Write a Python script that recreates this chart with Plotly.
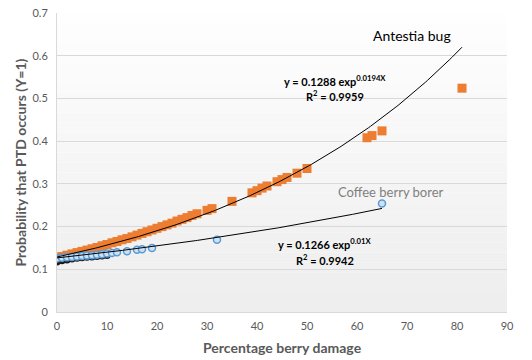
import numpy as np
import plotly.graph_objects as go

# Antestia bug (orange squares)
ant_x = list(range(0, 29)) + [30, 31, 35, 39, 40, 41, 42, 44, 45, 46, 48, 50, 62, 63, 65, 81]
ant_y = [0.127, 0.130, 0.133, 0.136, 0.139, 0.142, 0.145, 0.148, 0.151, 0.155,
         0.158, 0.162, 0.165, 0.169, 0.172, 0.176, 0.180, 0.184, 0.188, 0.192,
         0.196, 0.200, 0.204, 0.208, 0.213, 0.217, 0.221, 0.226, 0.230,
         0.238, 0.242, 0.259, 0.279, 0.284, 0.290, 0.295, 0.305, 0.310, 0.315,
         0.325, 0.336, 0.408, 0.413, 0.424, 0.524]

# Coffee berry borer (blue circles)
cbb_x = [0, 1, 2, 3, 4, 5, 6, 7, 8, 9, 10, 11, 12, 14, 16, 17, 19, 32, 65]
cbb_y = [0.125, 0.127, 0.128, 0.129, 0.130, 0.131, 0.132, 0.133, 0.134, 0.135,
         0.137, 0.138, 0.140, 0.142, 0.146, 0.147, 0.150, 0.169, 0.254]

# dark points under the borer series
blk_x = [0, 1, 2, 3, 4, 5, 6, 7, 8, 9, 10]
blk_y = [0.117, 0.120, 0.122, 0.124, 0.126, 0.127, 0.128, 0.129, 0.130, 0.131, 0.132]

# trendline coefficients (from the chart's equations)
ant_a, ant_b, ant_xmax = 0.1288, 0.0194, 81
cbb_a, cbb_b, cbb_xmax = 0.1266, 0.01, 65

x_ticks = [0, 10, 20, 30, 40, 50, 60, 70, 80, 90]
y_ticks = [0, 0.1, 0.2, 0.3, 0.4, 0.5, 0.6, 0.7]

FONT = "Lato"
fig = go.Figure()

# gradient plot background
n = 30
for i in range(n):
    t = i / n
    c = int(255 - (255 - 238) * (1 - t))
    fig.add_shape(type="rect", xref="x", yref="y", x0=0, x1=90,
                  y0=0.7 * i / n, y1=0.7 * (i + 1) / n,
                  fillcolor=f"rgb({c},{c},{c})", line_width=0, layer="below")

fig.add_trace(go.Scatter(x=ant_x, y=ant_y, mode="markers",
                         marker=dict(symbol="square", size=9, color="#ED7D31"),
                         showlegend=False))
fig.add_trace(go.Scatter(x=blk_x, y=blk_y, mode="markers",
                         marker=dict(symbol="circle", size=7, color="#1a1a1a"),
                         showlegend=False))
fig.add_trace(go.Scatter(x=cbb_x, y=cbb_y, mode="markers",
                         marker=dict(symbol="circle", size=7, color="#cfe2f3",
                                     line=dict(color="#5B9BD5", width=1.5)),
                         showlegend=False))

tx1 = np.linspace(0, ant_xmax, 200)
fig.add_trace(go.Scatter(x=tx1, y=ant_a * np.exp(ant_b * tx1), mode="lines",
                         line=dict(color="black", width=1), showlegend=False))
tx2 = np.linspace(0, cbb_xmax, 200)
fig.add_trace(go.Scatter(x=tx2, y=cbb_a * np.exp(cbb_b * tx2), mode="lines",
                         line=dict(color="black", width=1), showlegend=False))

ann = [
    dict(x=71, y=0.648, text="Antestia bug", font=dict(size=14, color="black")),
    dict(x=55.5, y=0.542, text="<b>y = 0.1288 exp<sup>0.0194X</sup></b>", font=dict(size=11, color="black")),
    dict(x=55.5, y=0.507, text="<b>R<sup>2</sup> = 0.9959</b>", font=dict(size=11, color="black")),
    dict(x=66.8, y=0.280, text="Coffee berry borer", font=dict(size=13, color="#7f7f7f")),
    dict(x=53.5, y=0.161, text="<b>y = 0.1266 exp<sup>0.01X</sup></b>", font=dict(size=11, color="black")),
    dict(x=53.5, y=0.124, text="<b>R<sup>2</sup> = 0.9942</b>", font=dict(size=11, color="black")),
]
for a in ann:
    fig.add_annotation(xref="x", yref="y", showarrow=False, **a)

# axis titles
fig.add_annotation(xref="paper", yref="paper", x=0.5, y=0, yanchor="middle", yshift=-35,
                   showarrow=False, text="<b>Percentage berry damage</b>",
                   font=dict(size=14, color="#595959"))
fig.add_annotation(xref="paper", yref="paper", x=0, y=0.5, xanchor="center", xshift=-37,
                   textangle=-90, showarrow=False, text="<b>Probability that PTD occurs (Y=1)</b>",
                   font=dict(size=14, color="#595959"))

fig.update_layout(
    width=532, height=360,
    margin=dict(l=57, r=25, t=13, b=48),
    paper_bgcolor="white", plot_bgcolor="white",
    font=dict(family=FONT, color="#595959"),
    xaxis=dict(range=[0, 90], tickvals=x_ticks, showgrid=False, zeroline=False,
               showline=True, linecolor="#d9d9d9", linewidth=1, automargin=False,
               tickfont=dict(size=11, color="#595959"), ticks="", ticklabelstandoff=4),
    yaxis=dict(range=[0, 0.7], tickvals=y_ticks, showgrid=True, gridcolor="#d9d9d9",
               gridwidth=1, zeroline=False, showline=True, linecolor="#d9d9d9", automargin=False,
               tickfont=dict(size=11, color="#595959"), ticks="", ticklabelstandoff=6),
)

fig.write_html("out.html", config={"displayModeBar": False},
               post_script="document.body.style.margin='0';document.body.style.overflow='hidden';")
